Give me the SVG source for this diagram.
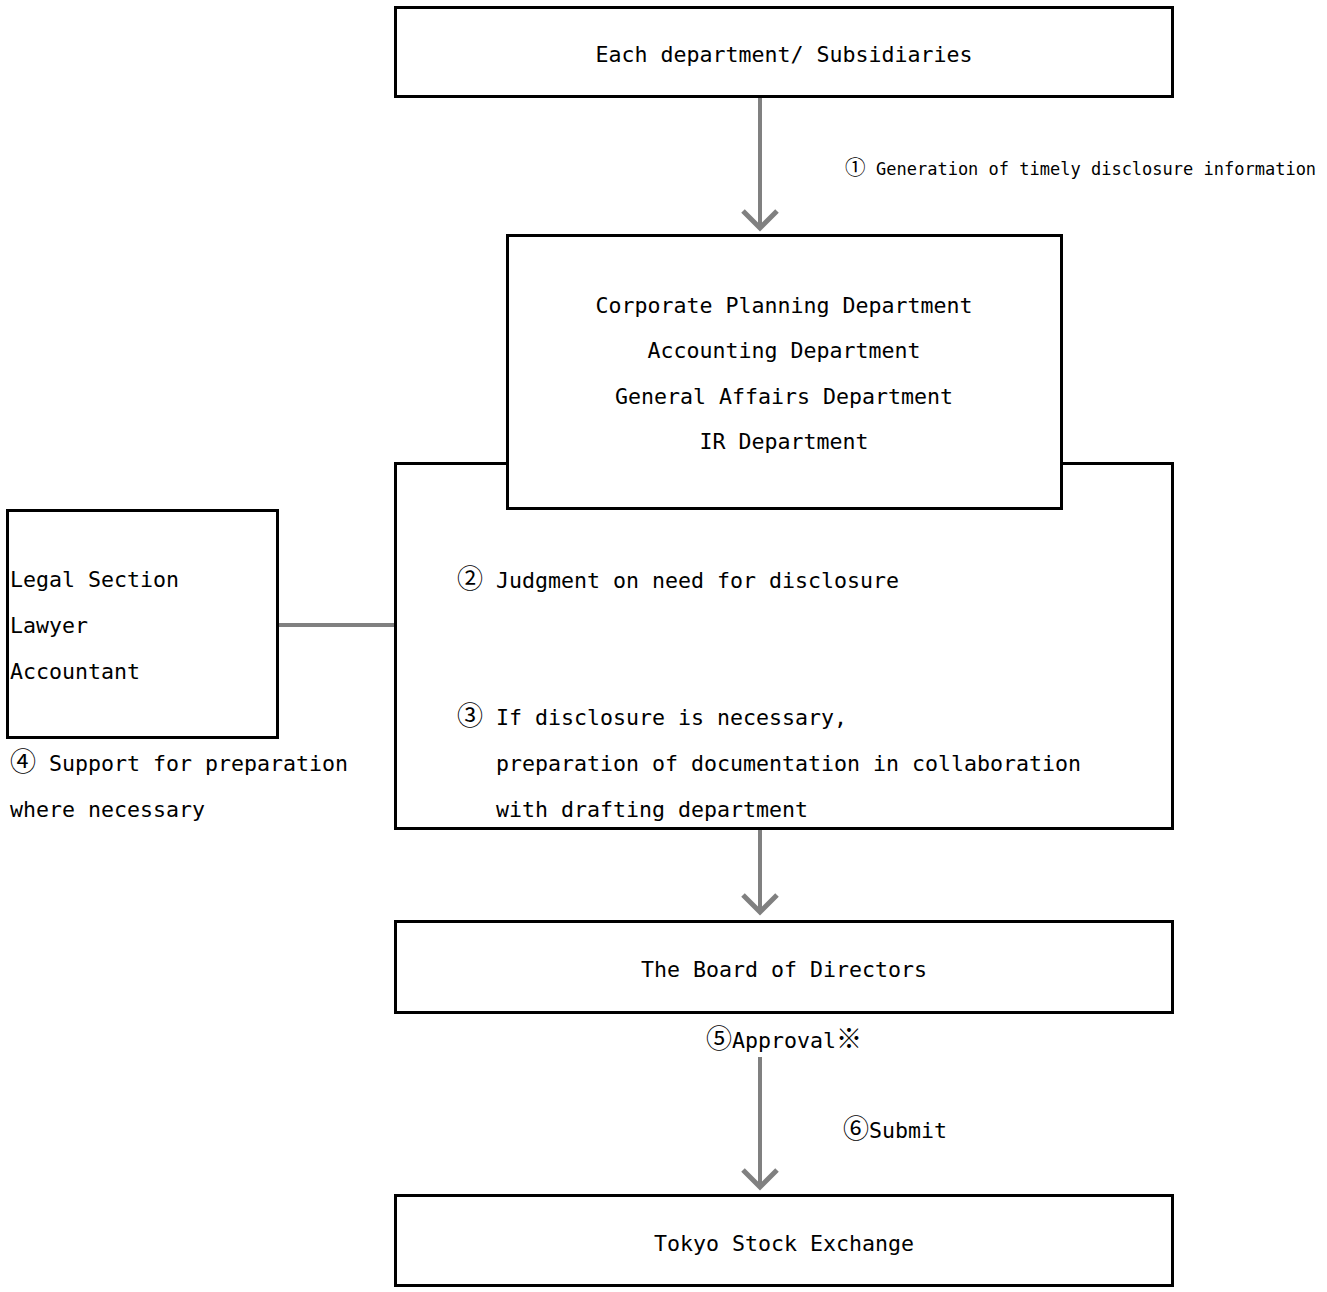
<svg xmlns="http://www.w3.org/2000/svg" width="1327" height="1292" viewBox="0 0 1327 1292">
<style>
  .box { fill: #ffffff; stroke: #000000; stroke-width: 3; }
  .t { font-family: "DejaVu Sans Mono", "Liberation Mono", "Noto Sans CJK JP", monospace; font-size: 21.6px; fill: #000000; }
  .s { font-family: "DejaVu Sans Mono", "Liberation Mono", "Noto Sans CJK JP", monospace; font-size: 17px; fill: #000000; }
  .c { font-family: "Noto Sans CJK JP", sans-serif; font-size: 26px; }
  .cs { font-family: "Noto Sans CJK JP", sans-serif; font-size: 20.5px; }
  .mid { text-anchor: middle; }
  .conn { stroke: #808080; stroke-width: 4; fill: none; }
</style>
<defs>
  <marker id="arrow" markerUnits="userSpaceOnUse" markerWidth="40" markerHeight="40" viewBox="-25 -20 30 40" refX="0" refY="0" orient="auto" overflow="visible">
    <path d="M-17,-17 L0,0 L-17,17" fill="none" stroke="#808080" stroke-width="5" stroke-linejoin="miter"/>
  </marker>
</defs>

<g id="connectors">
  <line class="conn" x1="760" y1="97" x2="760" y2="228" marker-end="url(#arrow)"/>
  <line class="conn" x1="760" y1="602" x2="760" y2="685" marker-end="url(#arrow)"/>
  <line class="conn" x1="760" y1="829" x2="760" y2="912" marker-end="url(#arrow)"/>
  <line class="conn" x1="760" y1="1057" x2="760" y2="1187" marker-end="url(#arrow)"/>
  <line class="conn" x1="277" y1="625" x2="396" y2="625"/>
</g>

<g id="node-each-department">
  <rect class="box" x="395.5" y="7.5" width="777" height="89"/>
  <text class="t mid" x="784" y="62">Each department/ Subsidiaries</text>
</g>

<g id="label-1">
  <text class="s" x="845" y="175"><tspan class="cs">①</tspan><tspan x="876">Generation of timely disclosure information</tspan></text>
</g>

<g id="node-disclosure-process">
  <rect class="box" x="395.5" y="463.5" width="777" height="365"/>
  <text class="t" x="457" y="588"><tspan class="c">②</tspan><tspan x="496">Judgment on need for disclosure</tspan></text>
  <text class="t" x="457" y="725"><tspan class="c">③</tspan><tspan x="496">If disclosure is necessary,</tspan></text>
  <text class="t" x="496" y="771">preparation of documentation in collaboration</text>
  <text class="t" x="496" y="817">with drafting department</text>
</g>

<g id="node-departments">
  <rect class="box" x="507.5" y="235.5" width="554" height="273"/>
  <text class="t mid" x="784" y="313">Corporate Planning Department</text>
  <text class="t mid" x="784" y="358">Accounting Department</text>
  <text class="t mid" x="784" y="404">General Affairs Department</text>
  <text class="t mid" x="784" y="449">IR Department</text>
</g>

<g id="node-legal">
  <rect class="box" x="7.5" y="510.5" width="270" height="227"/>
  <text class="t" x="10" y="587">Legal Section</text>
  <text class="t" x="10" y="633">Lawyer</text>
  <text class="t" x="10" y="679">Accountant</text>
</g>

<g id="label-4">
  <text class="t" x="10" y="771"><tspan class="c">④</tspan><tspan x="49">Support for preparation</tspan></text>
  <text class="t" x="10" y="817">where necessary</text>
</g>

<g id="node-board">
  <rect class="box" x="395.5" y="921.5" width="777" height="91"/>
  <text class="t mid" x="784" y="977">The Board of Directors</text>
</g>

<g id="label-5">
  <text class="t mid" x="784" y="1048"><tspan class="c">⑤</tspan>Approval<tspan class="c">※</tspan></text>
</g>

<g id="label-6">
  <text class="t" x="843" y="1138"><tspan class="c">⑥</tspan>Submit</text>
</g>

<g id="node-tse">
  <rect class="box" x="395.5" y="1195.5" width="777" height="90"/>
  <text class="t mid" x="784" y="1251">Tokyo Stock Exchange</text>
</g>
</svg>
